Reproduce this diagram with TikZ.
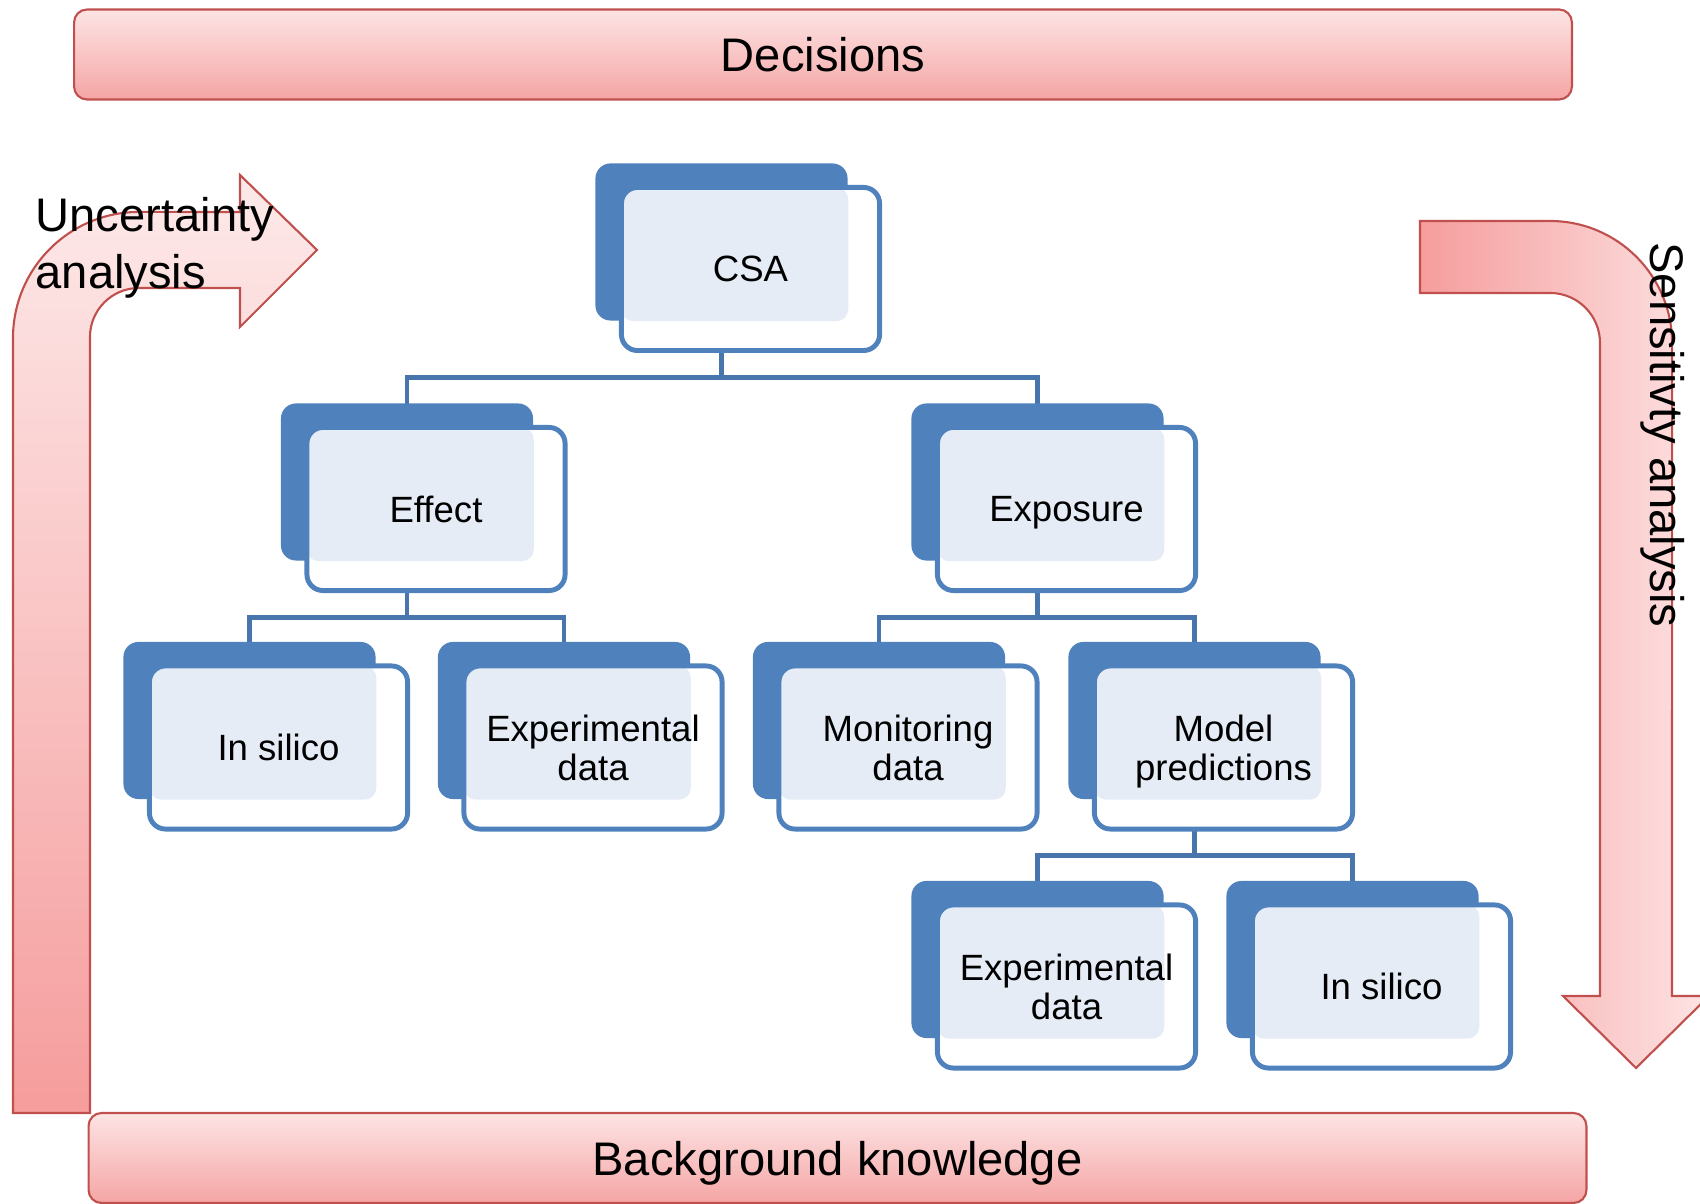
\documentclass[tikz,border=0pt]{standalone}
\usepackage{fontspec}
\setmainfont{Liberation Sans}
\usetikzlibrary{calc,backgrounds}

\definecolor{boxblue}{HTML}{4F81BD}
\definecolor{linkblue}{HTML}{4775AC}
\definecolor{boxpale}{HTML}{E5ECF6}
\definecolor{bannerred}{HTML}{C0504D}
\definecolor{pinklight}{HTML}{FDE4E4}
\definecolor{pinkdark}{HTML}{F5A5A5}

\begin{document}
\begin{tikzpicture}[x=0.01cm, y=0.01cm,
  bigtext/.style={font=\fontsize{13.4}{16}\selectfont},
  banner/.style={draw=bannerred, line width=0.6pt, rounded corners=0.13cm,
    top color=pinklight, bottom color=pinkdark, text depth=0pt,
    minimum width=14.97cm, minimum height=0.9cm, bigtext},
  bendarrow/.style={draw=bannerred, line width=0.6pt},
  backbox/.style={fill=boxblue, rounded corners=0.15cm, inner sep=0pt,
    minimum width=2.52cm, minimum height=1.57cm},
  frontbox/.style={draw=boxblue, line width=1.4pt, fill=white,
    rounded corners=0.16cm, minimum width=2.58cm, minimum height=1.63cm,
    align=center, text depth=0pt, font=\fontsize{10.4}{11.2}\selectfont},
  link/.style={draw=linkblue, line width=1.4pt}]

  \useasboundingbox (0,0) rectangle (1700,-1204);

  % Top and bottom bands.
  \node[banner] (decisions) at (823,-54.5) {Decisions};
  \node[banner] (knowledge) at (837.5,-1158) {Background knowledge};

  % Bent arrow on the left, going up and turning right.
  \path[bendarrow, top color=pinklight!80!white, bottom color=pinkdark!95!red]
    (13,-1113) -- (13,-338) arc (180:90:1.26cm) -- (240,-212)
    -- (240,-175) -- (317,-250) -- (240,-327) -- (240,-288) -- (139,-288)
    arc (90:180:0.49cm) -- (90,-1113) -- cycle;

  % Bent arrow on the right, going right and turning down.
  \path[bendarrow, left color=pinkdark!95!red, right color=pinklight]
    (1420,-221) -- (1550,-221) arc (90:0:1.22cm) -- (1672,-996)
    -- (1709,-996) -- (1636,-1068) -- (1563,-996) -- (1600,-996)
    -- (1600,-343) arc (0:90:0.5cm) -- (1420,-293) -- cycle;

  \node[bigtext, align=left, anchor=north west, inner sep=0pt] (uncert)
    at (35,-197) {Uncertainty\\analysis};
  \node[bigtext, rotate=-90, anchor=base, inner sep=0pt] (sens)
    at (1650,-435) {Sensitivty analysis};

  % Hierarchy boxes: a solid back card with a framed card in front.
  \foreach \n/\x/\y/\t in {csa/750.5/269/CSA,
      effect/436/509/Effect, exposure/1066.5/509/Exposure,
      silicoA/278.5/747.5/In silico, expdataA/593/747.5/Experimental\\data,
      monitor/908/747.5/Monitoring\\data, model/1223.5/747.5/Model\\predictions,
      expdataB/1066.5/986.5/Experimental\\data, silicoB/1381.5/986.5/In silico}{
    \node[backbox] (\n-bk) at (\x-29,-\y+27) {};
    \node[frontbox, path picture={
        \fill[boxpale, rounded corners=0.12cm]
          (path picture bounding box.north west) rectangle (\n-bk.south east);}]
      (\n) at (\x,-\y) {\t};
  }

  % Tree links, kept behind the cards.
  \begin{scope}[on background layer]
    \foreach \p/\c in {csa/effect, csa/exposure, effect/silicoA,
        effect/expdataA, exposure/monitor, exposure/model,
        model/expdataB, model/silicoB}
      \draw[link] (\p-bk.center) |- ($(\p.south)!0.5!(\c-bk.north)$)
        -| (\c-bk.center);
  \end{scope}
\end{tikzpicture}
\end{document}
